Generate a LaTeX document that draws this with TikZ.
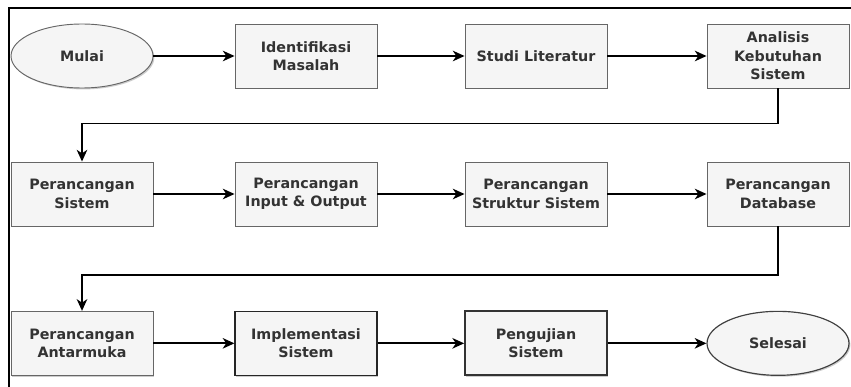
\documentclass[tikz,border=0pt]{standalone}
\usepackage{fontspec}
\setmainfont{DejaVu Sans}
\usepackage{tikz}
\usetikzlibrary{arrows.meta}
\usetikzlibrary{shapes.geometric, positioning, calc, shadows}
\usepackage{xcolor}
\definecolor{boxfill}{HTML}{F5F5F5}
\definecolor{boxline}{HTML}{666666}
\definecolor{boxtext}{HTML}{333333}

\tikzset{
  flowbox/.style={rectangle, draw=boxline, fill=boxfill, line width=0.8pt,
    minimum width=4.26cm, minimum height=1.92cm, inner sep=0pt, align=center,
    text=boxtext, font=\fontsize{12.2}{15.8}\selectfont\bfseries,
    drop shadow={shadow xshift=1.2pt, shadow yshift=-1.2pt, fill=black!40, opacity=0.5}},
  flowend/.style={flowbox, ellipse},
  flowline/.style={->, black, line width=1.6pt}
}

\begin{document}
\begin{tikzpicture}[>={Stealth[length=10pt, width=9pt, inset=3pt]}]
      \useasboundingbox (0, 0) rectangle (25.53, -11.61);
      \draw[line width=1.5pt] (0.27, -11.61) -- (0.27, -0.24) -- (25.53, -0.24);

      % baris pertama
      \node[flowend] (mulai) at (2.46, -1.68) {Mulai};
      \node[flowbox] (identifikasi) at (9.18, -1.68) {Identifikasi\\Masalah};
      \node[flowbox] (studi) at (16.08, -1.68) {Studi Literatur};
      \node[flowbox] (analisis) at (23.34, -1.68) {Analisis\\Kebutuhan\\Sistem};

      % baris kedua
      \node[flowbox] (psistem) at (2.46, -5.82) {Perancangan\\Sistem};
      \node[flowbox] (pio) at (9.18, -5.82) {Perancangan\\Input \& Output};
      \node[flowbox] (pstruktur) at (16.08, -5.82) {Perancangan\\Struktur Sistem};
      \node[flowbox] (pdb) at (23.34, -5.82) {Perancangan\\Database};

      % baris ketiga
      \node[flowbox] (pantarmuka) at (2.46, -10.3) {Perancangan\\Antarmuka};
      \node[flowbox, draw=black!85, line width=1pt] (implementasi) at (9.18, -10.3) {Implementasi\\Sistem};
      \node[flowbox, draw=black!80, line width=1.5pt] (pengujian) at (16.08, -10.3) {Pengujian\\Sistem};
      \node[flowend, draw=black!75, line width=1pt] (selesai) at (23.34, -10.3) {Selesai};

      \draw[flowline] (mulai) -- (identifikasi);
      \draw[flowline] (identifikasi) -- (studi);
      \draw[flowline] (studi) -- (analisis);
      \draw[flowline] (analisis.south) -- ++(0, -1.05) -| (psistem.north);
      \draw[flowline] (psistem) -- (pio);
      \draw[flowline] (pio) -- (pstruktur);
      \draw[flowline] (pstruktur) -- (pdb);
      \draw[flowline] (pdb.south) -- ++(0, -1.45) -| (pantarmuka.north);
      \draw[flowline] (pantarmuka) -- (implementasi);
      \draw[flowline] (implementasi) -- (pengujian);
      \draw[flowline] (pengujian) -- (selesai);

    \end{tikzpicture}
\end{document}
